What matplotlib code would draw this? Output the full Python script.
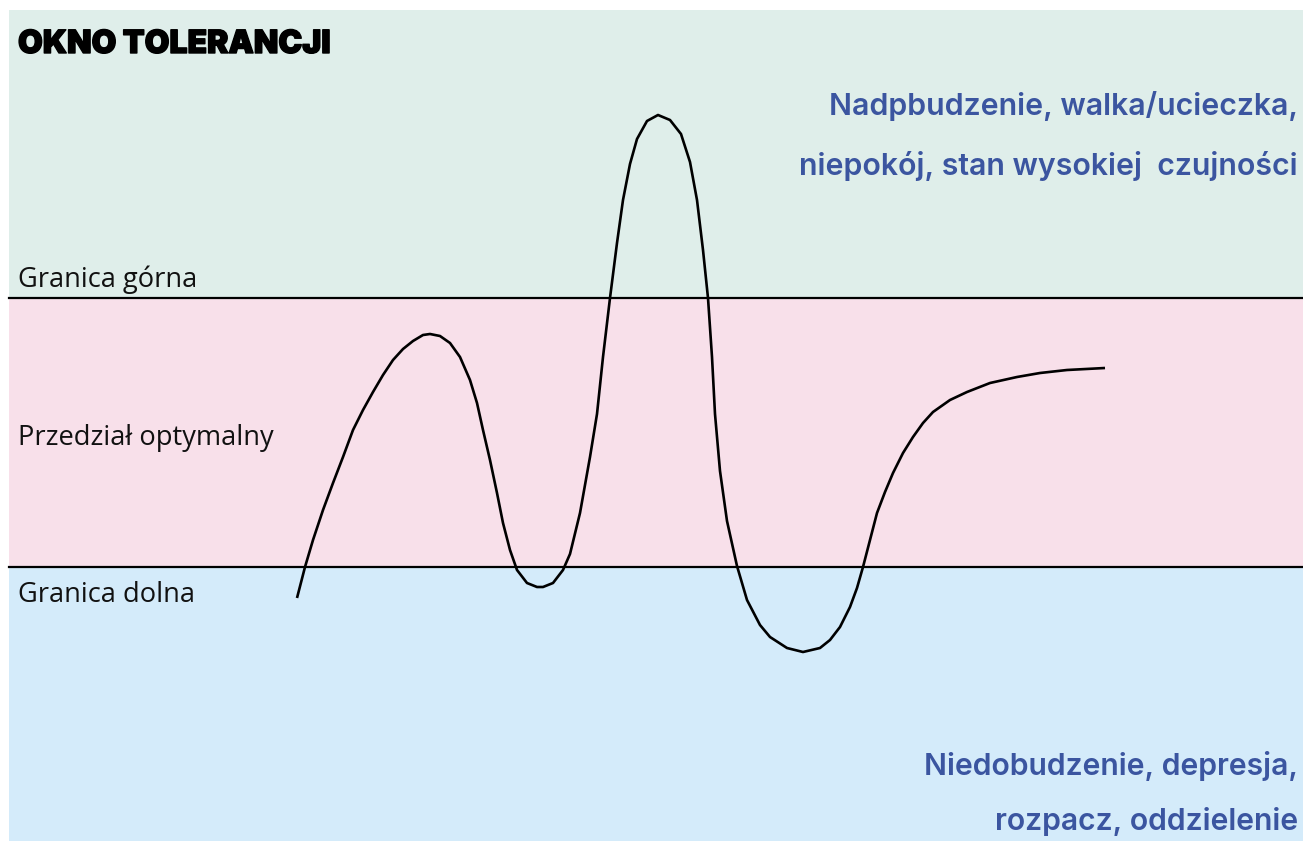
import matplotlib
matplotlib.use('Agg')
import matplotlib.pyplot as plt
import matplotlib.patheffects as pe

# pasma (górna krawędź, dolna krawędź) w pikselach obrazu
band_names = ['nadpobudzenie', 'optymalny', 'niedobudzenie']
band_top = [10, 298, 567]
band_bottom = [298, 567, 841]
band_colors = ['#dfeeea', '#f8e0ea', '#d4ebfa']
limits = [298, 567]  # granica górna, granica dolna

# krzywa pobudzenia
curve_x = [297, 305, 313, 323, 333, 343, 353, 363, 373, 383, 393, 403, 413, 423,
           430, 440, 450, 460, 470, 477, 483, 490, 497, 503, 510, 517, 527, 537,
           543, 553, 563, 570, 580, 590, 597, 603, 610, 617, 623, 630, 637, 647,
           658, 670, 681, 690, 697, 703, 708, 712, 715, 720, 727, 737, 747, 760,
           770, 787, 803, 820, 830, 840, 850, 857, 863, 870, 877, 885, 893, 903,
           913, 923, 933, 950, 967, 990, 1017, 1040, 1067, 1105]
curve_y = [598, 567, 540, 510, 483, 457, 430, 410, 392, 375, 360, 349, 341, 335,
           334, 336, 343, 357, 380, 403, 430, 460, 493, 523, 550, 570, 583, 587,
           587, 583, 570, 554, 513, 457, 414, 357, 298, 243, 200, 164, 139, 121,
           115, 120, 134, 162, 200, 250, 298, 357, 414, 471, 521, 566, 600, 625,
           637, 648, 652, 648, 640, 627, 607, 588, 567, 540, 513, 492, 473, 453,
           437, 423, 412, 400, 392, 383, 377, 373, 370, 368]

left_labels = ['Granica górna', 'Przedział optymalny', 'Granica dolna']
left_label_y = [287, 445, 602]
top_lines = ['Nadpbudzenie, walka/ucieczka,', 'niepokój, stan wysokiej  czujności']
top_lines_y = [115, 175]
bottom_lines = ['Niedobudzenie, depresja,', 'rozpacz, oddzielenie']
bottom_lines_y = [775, 830]
title = 'OKNO TOLERANCJI'

W, H = 1303, 841
fig = plt.figure(figsize=(W / 100, H / 100), dpi=100, facecolor='white')
ax = fig.add_axes([0, 0, 1, 1])
ax.set_xlim(0, W)
ax.set_ylim(H, 0)
ax.axis('off')

for top, bot, c in zip(band_top, band_bottom, band_colors):
    ax.fill_between([9, W], top, bot, color=c, lw=0, zorder=0)
for y in limits:
    ax.plot([9, W], [y, y], color='black', lw=1.6, zorder=2)

ax.plot(curve_x, curve_y, color='black', lw=1.9, solid_capstyle='butt',
        solid_joinstyle='round', antialiased=True, zorder=3)

ax.text(18, 53, title, family='Inter', weight='black', fontsize=23,
        color='black', va='baseline', ha='left',
        path_effects=[pe.withStroke(linewidth=1.0, foreground='black')])
for t, y in zip(left_labels, left_label_y):
    ax.text(18, y, t, family='Open Sans', fontsize=19.6, color='#111111',
            va='baseline', ha='left')
blue = '#3b55a0'
for t, y in zip(top_lines, top_lines_y):
    ax.text(1298, y, t, family='Inter', weight='semibold', fontsize=21.8,
            color=blue, va='baseline', ha='right')
for t, y in zip(bottom_lines, bottom_lines_y):
    ax.text(1298, y, t, family='Inter', weight='semibold', fontsize=21.7,
            color=blue, va='baseline', ha='right')

fig.savefig('out.png', dpi=100, facecolor='white')
